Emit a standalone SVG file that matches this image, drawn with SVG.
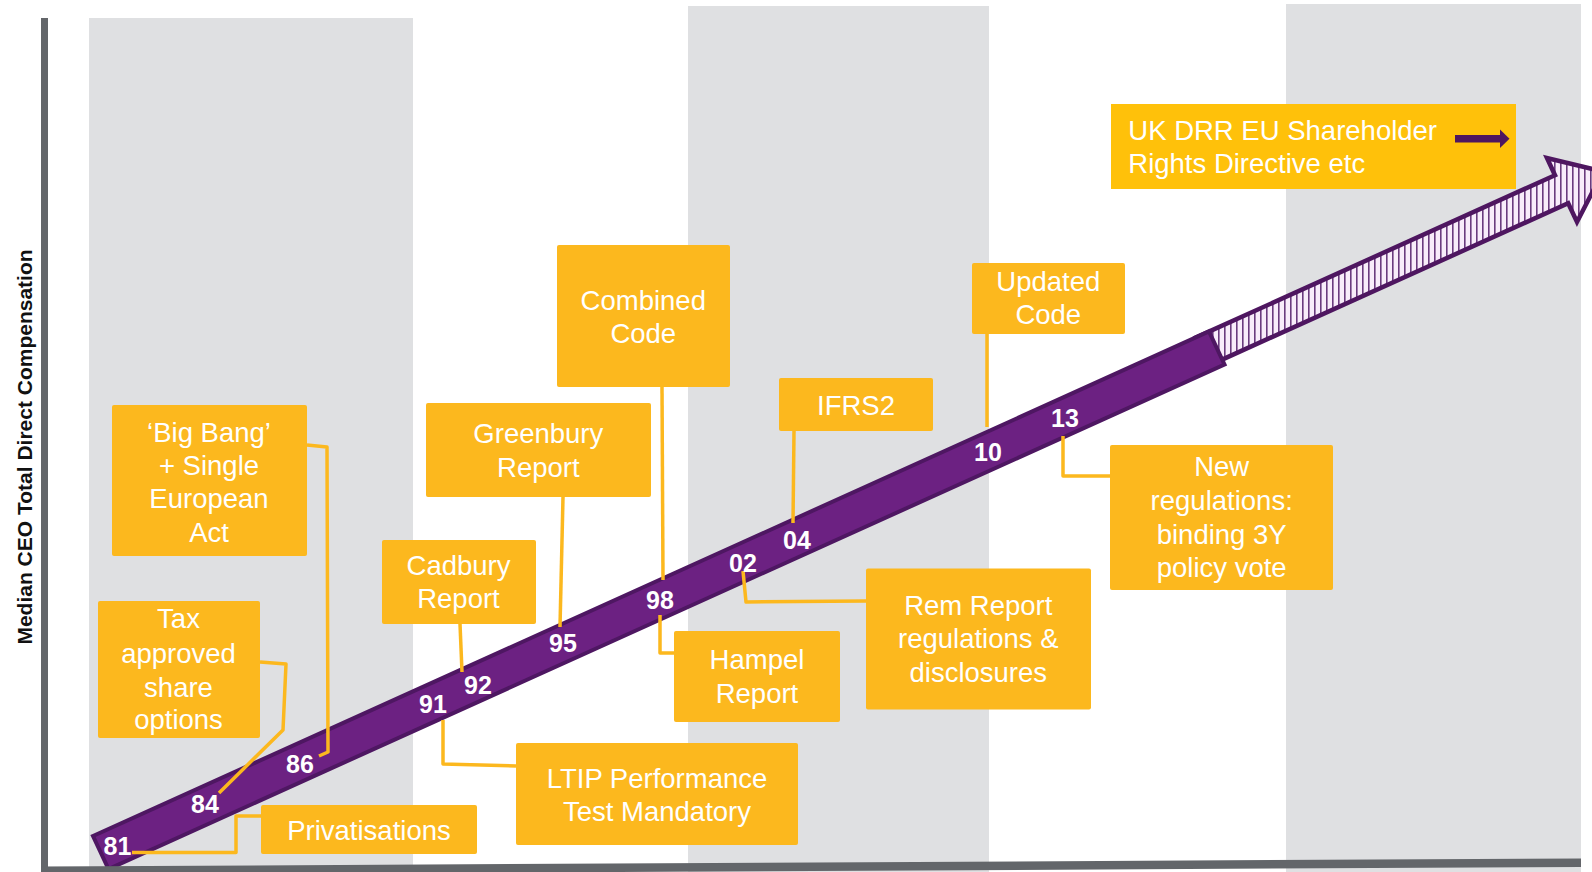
<svg xmlns="http://www.w3.org/2000/svg" width="1592" height="872" viewBox="0 0 1592 872">
  <style>
    .band { fill: #dfe0e2; }
    .axis { fill: #63666a; }
    .box { fill: #fcb81e; }
    .box-y { fill: #ffc10a; }
    .lbl { font-family: "Liberation Sans", Arial, sans-serif; font-size: 27.5px; fill: #ffffff; text-anchor: middle; }
    .lbl-l { font-family: "Liberation Sans", Arial, sans-serif; font-size: 27.5px; fill: #ffffff; }
    .yr { font-family: "Liberation Sans", Arial, sans-serif; font-size: 25px; font-weight: bold; fill: #ffffff; text-anchor: middle; }
    .ytitle { font-family: "Liberation Sans", Arial, sans-serif; font-size: 21px; font-weight: bold; fill: #111111; text-anchor: middle; }
    .conn { fill: none; stroke: #fcb81e; stroke-width: 3.5; stroke-linejoin: round; }
  </style>
  <defs>
    <pattern id="stripes" patternUnits="userSpaceOnUse" width="6" height="10">
      <rect width="6" height="10" fill="#f8ecfa"/>
      <rect x="0" y="0" width="1.6" height="10" fill="#6a3b7e"/>
    </pattern>
  </defs>

  <rect width="1592" height="872" fill="#ffffff"/>

  <!-- shaded era columns -->
  <g id="columns">
    <rect class="band" x="89" y="18" width="324" height="854"/>
    <rect class="band" x="688" y="6" width="301" height="866"/>
    <rect class="band" x="1286" y="4" width="295" height="868"/>
  </g>

  <!-- future (hatched) arrow -->
  <g id="trend-future">
    <polygon points="1195,337.9 1555,175.2 1547,158 1603,171.5 1577,222 1568.2,203.2 1195,371.9" fill="url(#stripes)" stroke="#4e1660" stroke-width="4.5" stroke-linejoin="miter"/>
  </g>

  <!-- solid trend band -->
  <g id="trend">
    <polygon points="93,836 1209,331.5 1224.5,364.5 108.5,869" fill="#6c2182" stroke="#4e1762" stroke-width="4" stroke-linejoin="miter"/>
  </g>

  <!-- axes -->
  <g id="axes">
    <rect class="axis" x="41" y="18" width="7" height="854"/>
    <polygon class="axis" points="41,866.5 1581,858.5 1581,867 41,875"/>
  </g>

  <!-- leader lines -->
  <g id="connectors">
    <path class="conn" d="M132 852.5 H236 V816 H261"/>
    <path class="conn" d="M260 662 L286 664 L283 730 L219 793"/>
    <path class="conn" d="M307 445 L327 447 L328 752 L319 756"/>
    <path class="conn" d="M443 720 V764 L516 766"/>
    <path class="conn" d="M460 624 L462 672"/>
    <path class="conn" d="M563 497 L560 627"/>
    <path class="conn" d="M662 387 L663 580"/>
    <path class="conn" d="M660 615 V653 H674"/>
    <path class="conn" d="M743 571 L746 602 L866 601"/>
    <path class="conn" d="M794 431 L793 523"/>
    <path class="conn" d="M987 334 V427"/>
    <path class="conn" d="M1063 436 V476 H1110"/>
  </g>

  <!-- year markers -->
  <g id="years">
    <text class="yr" x="117.5" y="855">81</text>
    <text class="yr" x="205" y="813">84</text>
    <text class="yr" x="300" y="773">86</text>
    <text class="yr" x="433" y="713">91</text>
    <text class="yr" x="478" y="694">92</text>
    <text class="yr" x="563" y="652">95</text>
    <text class="yr" x="660" y="609">98</text>
    <text class="yr" x="743" y="572">02</text>
    <text class="yr" x="797" y="549">04</text>
    <text class="yr" x="988" y="461">10</text>
    <text class="yr" x="1065" y="427">13</text>
  </g>

  <g id="big-bang">
    <rect class="box" x="112" y="405" width="195" height="151" rx="2"/>
    <text class="lbl" x="209" y="441.7">‘Big Bang’</text>
    <text class="lbl" x="209" y="475">+ Single</text>
    <text class="lbl" x="209" y="508.3">European</text>
    <text class="lbl" x="209" y="541.7">Act</text>
  </g>

  <g id="tax-options">
    <rect class="box" x="98" y="601" width="162" height="137" rx="2"/>
    <text class="lbl" x="178.5" y="628.3">Tax</text>
    <text class="lbl" x="178.5" y="662.7">approved</text>
    <text class="lbl" x="178.5" y="696.7">share</text>
    <text class="lbl" x="178.5" y="729">options</text>
  </g>

  <g id="privatisations">
    <rect class="box" x="261" y="805" width="216" height="49" rx="2"/>
    <text class="lbl" x="369" y="840">Privatisations</text>
  </g>

  <g id="cadbury">
    <rect class="box" x="382" y="540" width="154" height="84" rx="2"/>
    <text class="lbl" x="458.5" y="575">Cadbury</text>
    <text class="lbl" x="458.5" y="608">Report</text>
  </g>

  <g id="ltip">
    <rect class="box" x="516" y="743" width="282" height="102" rx="2"/>
    <text class="lbl" x="657" y="787.7">LTIP Performance</text>
    <text class="lbl" x="657" y="821">Test Mandatory</text>
  </g>

  <g id="greenbury">
    <rect class="box" x="426" y="403" width="225" height="94" rx="2"/>
    <text class="lbl" x="538.3" y="443.3">Greenbury</text>
    <text class="lbl" x="538.3" y="476.7">Report</text>
  </g>

  <g id="combined-code">
    <rect class="box" x="557" y="245" width="173" height="142" rx="2"/>
    <text class="lbl" x="643.3" y="310">Combined</text>
    <text class="lbl" x="643.3" y="342.7">Code</text>
  </g>

  <g id="hampel">
    <rect class="box" x="674" y="631" width="166" height="91" rx="2"/>
    <text class="lbl" x="757" y="669">Hampel</text>
    <text class="lbl" x="757" y="703">Report</text>
  </g>

  <g id="ifrs2">
    <rect class="box" x="779" y="378" width="154" height="53" rx="2"/>
    <text class="lbl" x="856" y="415">IFRS2</text>
  </g>

  <g id="rem-report">
    <rect class="box" x="866" y="568.5" width="225" height="141" rx="2"/>
    <text class="lbl" x="978.3" y="615">Rem Report</text>
    <text class="lbl" x="978.3" y="647.7">regulations &amp;</text>
    <text class="lbl" x="978.3" y="681.7">disclosures</text>
  </g>

  <g id="updated-code">
    <rect class="box" x="972" y="263" width="153" height="71" rx="2"/>
    <text class="lbl" x="1048.3" y="290.7">Updated</text>
    <text class="lbl" x="1048.3" y="324">Code</text>
  </g>

  <g id="new-regulations">
    <rect class="box" x="1110" y="445" width="223" height="145" rx="2"/>
    <text class="lbl" x="1221.7" y="476">New</text>
    <text class="lbl" x="1221.7" y="510">regulations:</text>
    <text class="lbl" x="1221.7" y="544.3">binding 3Y</text>
    <text class="lbl" x="1221.7" y="576.7">policy vote</text>
  </g>

  <g id="uk-drr">
    <rect class="box-y" x="1111" y="104" width="405" height="85"/>
    <text class="lbl-l" x="1128.3" y="140">UK DRR EU Shareholder</text>
    <text class="lbl-l" x="1128.3" y="173.3">Rights Directive etc</text>
    <rect x="1455" y="135" width="46" height="7.5" fill="#4e1660"/>
    <polygon points="1500,129.5 1509.5,138.7 1500,148" fill="#4e1660"/>
  </g>

  <text class="ytitle" transform="translate(32,447) rotate(-90)">Median CEO Total Direct Compensation</text>
</svg>
